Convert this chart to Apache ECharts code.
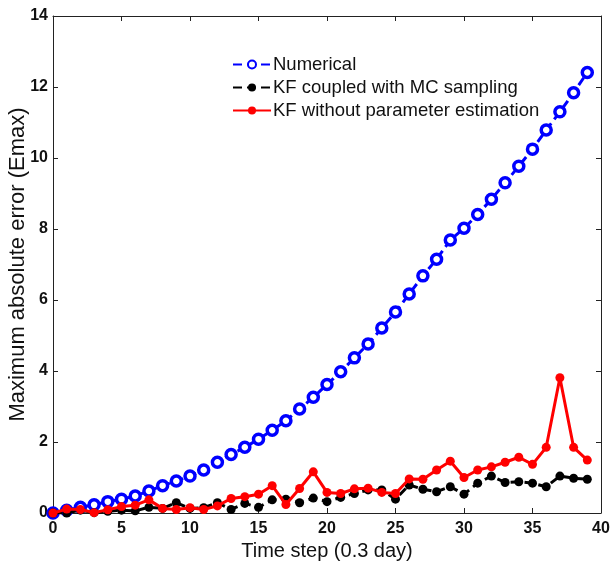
<!DOCTYPE html>
<html>
<head>
<meta charset="utf-8">
<script src="https://cdn.jsdelivr.net/npm/echarts@6/dist/echarts.min.js"></script>
<style>
html,body{margin:0;padding:0;background:#fff;}
#chart{width:610px;height:564px;}
</style>
</head>
<body>
<div id="chart"></div>
<script>
const timeSteps = [0,1,2,3,4,5,6,7,8,9,10,11,12,13,14,15,16,17,18,19,20,21,22,23,24,25,26,27,28,29,30,31,32,33,34,35,36,37,38,39];
const numerical = [0,0.08,0.16,0.23,0.32,0.39,0.48,0.62,0.77,0.9,1.04,1.21,1.43,1.65,1.85,2.08,2.33,2.6,2.93,3.26,3.62,3.98,4.37,4.76,5.21,5.66,6.17,6.68,7.15,7.69,8.02,8.41,8.84,9.30,9.77,10.25,10.79,11.3,11.84,12.41];
const kfMC = [0,0,0.08,0.01,0.05,0.08,0.06,0.16,0.13,0.29,0.13,0.15,0.29,0.1,0.27,0.16,0.37,0.39,0.29,0.42,0.32,0.44,0.55,0.65,0.65,0.39,0.79,0.67,0.6,0.74,0.53,0.84,1.04,0.86,0.88,0.84,0.74,1.04,0.98,0.95];
const kfNoParam = [0,0.11,0.1,0.01,0.09,0.18,0.22,0.37,0.13,0.1,0.15,0.1,0.2,0.41,0.46,0.53,0.77,0.24,0.69,1.16,0.58,0.55,0.68,0.7,0.58,0.55,0.96,0.95,1.21,1.46,1.0,1.21,1.3,1.43,1.57,1.37,1.85,3.81,1.85,1.49];
const xTicks = [0,5,10,15,20,25,30,35,40];
const yTicks = [0,2,4,6,8,10,12,14];

const pairs = (ys) => timeSteps.map((t, i) => [t, ys[i]]);
const font = 'Liberation Sans, Arial, sans-serif';
const narrow = '"Liberation Sans Narrow", "Arial Narrow", "Liberation Sans", sans-serif';

const chart = echarts.init(document.getElementById('chart'), null, {renderer: 'canvas'});
const axisLine = {show: true, onZero: false, lineStyle: {color: '#222', width: 1}};
const axisTick = {show: true, inside: true, length: 5, lineStyle: {color: '#222', width: 1}};
const tickFont = {fontFamily: narrow, fontSize: 16, fontWeight: 'bold', color: '#111'};
chart.setOption({
  animation: false,
  backgroundColor: '#fff',
  grid: {left: 53, top: 16, width: 548, height: 497, containLabel: false, outerBoundsMode: 'none'},
  legend: {
    orient: 'vertical', left: 227, top: 50, itemWidth: 38, itemHeight: 10, itemGap: 4,
    textStyle: {fontFamily: font, fontSize: 18.5, color: '#111', padding: [0,0,0,-3]},
    data: ['Numerical', 'KF coupled with MC sampling', 'KF without parameter estimation']
  },
  xAxis: [{
    type: 'value', min: 0, max: 40, interval: 5, position: 'bottom',
    axisLine, axisTick, splitLine: {show: false},
    axisLabel: Object.assign({margin: 8, customValues: xTicks}, tickFont),
    name: 'Time step (0.3 day)', nameLocation: 'middle', nameGap: 28,
    nameTextStyle: {fontFamily: font, fontSize: 20, color: '#111'}
  }, {
    type: 'value', min: 0, max: 40, interval: 5, position: 'top',
    axisLine, axisTick, axisLabel: {show: false}, splitLine: {show: false}
  }],
  yAxis: [{
    type: 'value', min: 0, max: 14, interval: 2, position: 'left',
    axisLine, axisTick, splitLine: {show: false},
    axisLabel: Object.assign({margin: 5, customValues: yTicks}, tickFont),
    name: 'Maximum absolute error (Emax)', nameLocation: 'middle', nameGap: 24,
    nameMoveOverlap: false,
    nameTextStyle: {fontFamily: font, fontSize: 22, color: '#111'}
  }, {
    type: 'value', min: 0, max: 14, interval: 2, position: 'right',
    axisLine, axisTick, axisLabel: {show: false}, splitLine: {show: false}
  }],
  series: [{
    name: 'Numerical', type: 'line', data: pairs(numerical),
    symbol: 'circle', symbolSize: 10, showAllSymbol: true,
    lineStyle: {color: '#0000ff', width: 3, type: [9, 5]},
    itemStyle: {color: '#ffffff', borderColor: '#0000ff', borderWidth: 3.5},
    z: 2
  }, {
    name: 'KF coupled with MC sampling', type: 'line', data: pairs(kfMC),
    symbol: 'circle', symbolSize: 9, showAllSymbol: true,
    lineStyle: {color: '#000000', width: 3, type: [9, 5]},
    itemStyle: {color: '#000000'},
    z: 3
  }, {
    name: 'KF without parameter estimation', type: 'line', data: pairs(kfNoParam),
    symbol: 'circle', symbolSize: 9, showAllSymbol: true,
    lineStyle: {color: '#ff0000', width: 3},
    itemStyle: {color: '#ff0000'},
    z: 4
  }]
});
</script>
</body>
</html>
